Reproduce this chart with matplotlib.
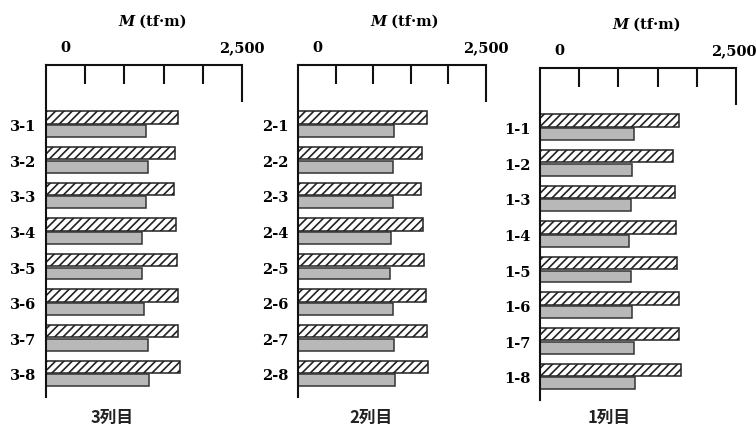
import matplotlib.pyplot as plt
import numpy as np

plt.rcParams['hatch.linewidth'] = 1.2

# bending moment M (tf·m)
col3_names = ["3-1", "3-2", "3-3", "3-4", "3-5", "3-6", "3-7", "3-8"]
col3_hatch = [1680, 1640, 1630, 1655, 1665, 1680, 1680, 1705]
col3_gray = [1280, 1295, 1270, 1230, 1230, 1255, 1295, 1310]

col2_names = ["2-1", "2-2", "2-3", "2-4", "2-5", "2-6", "2-7", "2-8"]
col2_hatch = [1720, 1645, 1640, 1665, 1680, 1700, 1715, 1730]
col2_gray = [1270, 1265, 1260, 1235, 1225, 1260, 1270, 1290]

col1_names = ["1-1", "1-2", "1-3", "1-4", "1-5", "1-6", "1-7", "1-8"]
col1_hatch = [1775, 1700, 1720, 1735, 1750, 1775, 1775, 1795]
col1_gray = [1200, 1170, 1160, 1140, 1155, 1175, 1200, 1210]

panel_titles = ["3列目", "2列目", "1列目"]
xmax = 2500

W, H = 756, 435
fig = plt.figure(figsize=(W / 100, H / 100), dpi=100)

# panel boxes in pixels: left, width, top, bottom
boxes = [(46, 196, 66, 398), (298, 188, 66, 398), (540, 196, 69, 401)]
caption_x = [112, 371, 609]
panels = [(col3_names, col3_hatch, col3_gray),
          (col2_names, col2_hatch, col2_gray),
          (col1_names, col1_hatch, col1_gray)]

serif = "DejaVu Serif"

for k, (names, hv, gv) in enumerate(panels):
    left, width, top, bottom = boxes[k]
    ax = fig.add_axes([left / W, 1 - bottom / H, width / W, (bottom - top) / H])
    y = np.arange(len(names))
    ax.barh(y - 0.2, hv, height=0.35, color="white", edgecolor="#222222",
            linewidth=1.1, hatch="////")
    ax.barh(y + 0.18, gv, height=0.33, color="#b8b8b8", edgecolor="#333333",
            linewidth=1.1)
    ax.set_xlim(0, xmax)
    ax.set_ylim(7.65, -1.676)

    for s in ["right", "bottom"]:
        ax.spines[s].set_visible(False)
    for s in ["top", "left"]:
        ax.spines[s].set_linewidth(1.5)
        ax.spines[s].set_color("#111111")

    ax.xaxis.tick_top()
    ax.set_xticks([500, 1000, 1500, 2000])
    ax.set_xticks([xmax], minor=True)
    ax.tick_params(axis="x", which="major", direction="in", length=13.5,
                   width=1.5, color="#111111", labeltop=False)
    ax.tick_params(axis="x", which="minor", direction="in", length=26.5,
                   width=1.5, color="#111111", labeltop=False)

    ax.set_yticks(y)
    ax.set_yticklabels(names, fontfamily=serif, fontweight="bold", fontsize=10.5)
    ax.tick_params(axis="y", length=0, pad=7)

    # scale labels above the axis line
    ax.annotate("0", xy=(0, 1), xycoords="axes fraction", xytext=(14, 13),
                textcoords="offset points", ha="center", va="center",
                fontfamily=serif, fontweight="bold", fontsize=10.5)
    ax.annotate("2,500", xy=(1, 1), xycoords="axes fraction",
                xytext=(-1.5 if k == 2 else 0, 13),
                textcoords="offset points", ha="center", va="center",
                fontfamily=serif, fontweight="bold", fontsize=10.5)

    m = ax.annotate("M", xy=(72 / width, 1), xycoords="axes fraction",
                    xytext=(0, 32), textcoords="offset points", ha="left",
                    va="center", fontfamily=serif, fontweight="bold",
                    fontstyle="italic", fontsize=10.5)
    ax.annotate(" (tf·m)", xy=(1, 0.5), xycoords=m, ha="left", va="center",
                fontfamily=serif, fontweight="bold", fontsize=10.5)

    fig.text(caption_x[k] / W, 1 - 418 / H, panel_titles[k], ha="center",
             va="center", fontfamily=["Noto Sans CJK JP", "DejaVu Sans"],
             fontweight="bold", fontsize=12, color="#222222")

fig.savefig("out.png", dpi=100)
